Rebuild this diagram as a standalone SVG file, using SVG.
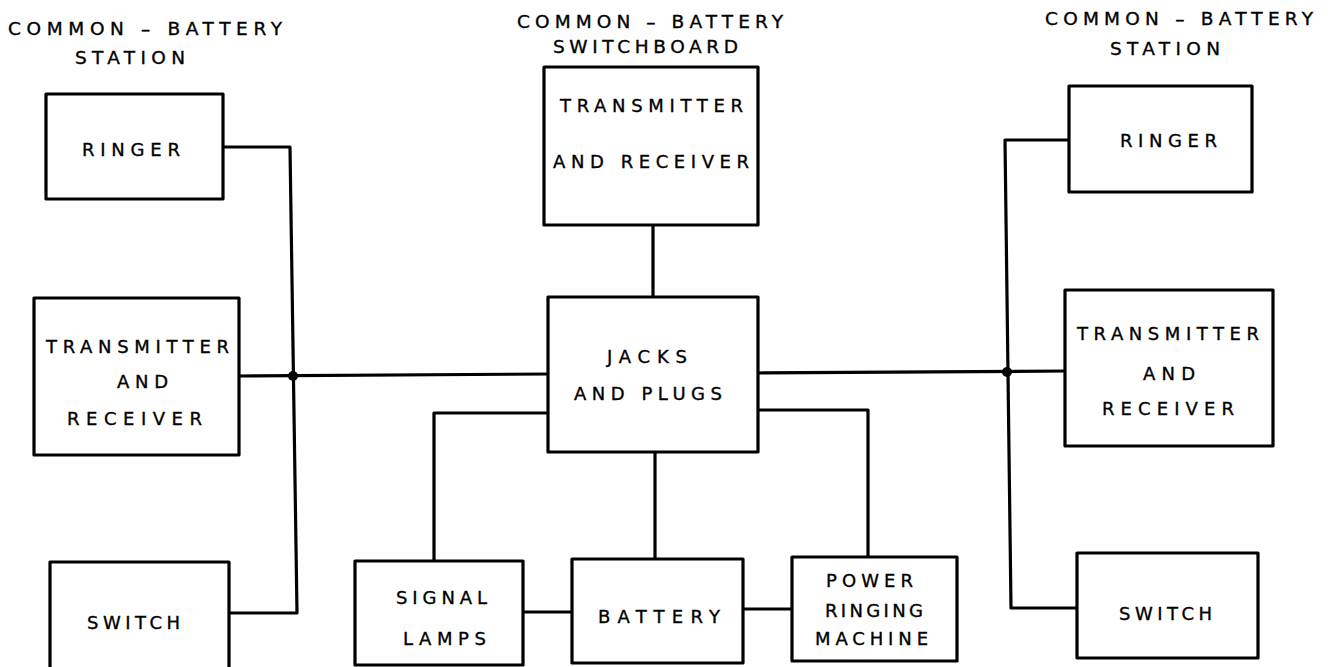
<svg xmlns="http://www.w3.org/2000/svg" width="1335" height="667" viewBox="0 0 1335 667">
<style>
.box{fill:#fff;stroke:#000;stroke-width:3.2;stroke-linejoin:round}
.wire{fill:none;stroke:#000;stroke-width:3.2;stroke-linejoin:round;stroke-linecap:square}
text{font-family:"DejaVu Sans","Liberation Sans",sans-serif;font-size:18px;fill:#000;stroke:#000;stroke-width:0.35}
.title{font-size:18.5px}
</style>
<rect width="1335" height="667" fill="#fff"/>
<g id="titles">
<text class="title" x="8" y="35" textLength="274" lengthAdjust="spacing">COMMON – BATTERY</text>
<text class="title" x="75" y="64" textLength="110" lengthAdjust="spacing">STATION</text>
<text class="title" x="517" y="28" textLength="266" lengthAdjust="spacing">COMMON – BATTERY</text>
<text class="title" x="553" y="53" textLength="185" lengthAdjust="spacing">SWITCHBOARD</text>
<text class="title" x="1045" y="25" textLength="268" lengthAdjust="spacing">COMMON – BATTERY</text>
<text class="title" x="1110" y="55" textLength="110" lengthAdjust="spacing">STATION</text>
</g>
<g id="connectors">
<polyline class="wire" points="223,147 290,147 297,613 229,613"/>
<line class="wire" x1="239" y1="376" x2="548" y2="374"/>
<line class="wire" x1="653" y1="225" x2="653" y2="297"/>
<polyline class="wire" points="548,413 434,413 434,561"/>
<line class="wire" x1="655" y1="452" x2="655" y2="559"/>
<polyline class="wire" points="758,410 868,410 868,557"/>
<line class="wire" x1="523" y1="612" x2="572" y2="612"/>
<line class="wire" x1="743" y1="609" x2="792" y2="609"/>
<line class="wire" x1="758" y1="373" x2="1065" y2="371"/>
<polyline class="wire" points="1069,140 1005,140 1011,608 1077,608"/>
<circle cx="293" cy="376" r="5" fill="#000"/>
<circle cx="1007" cy="372" r="5" fill="#000"/>
</g>
<g id="left-ringer">
<rect class="box" x="46" y="94" width="177" height="105"/>
<text x="82" y="156" textLength="98" lengthAdjust="spacing">RINGER</text>
</g>
<g id="left-transmitter">
<rect class="box" x="34" y="298" width="205" height="157"/>
<text x="46" y="353" textLength="183" lengthAdjust="spacing">TRANSMITTER</text>
<text x="117" y="388" textLength="51" lengthAdjust="spacing">AND</text>
<text x="67" y="425" textLength="135" lengthAdjust="spacing">RECEIVER</text>
</g>
<g id="left-switch">
<rect class="box" x="50" y="562" width="179" height="110"/>
<text x="87" y="629" textLength="93" lengthAdjust="spacing">SWITCH</text>
</g>
<g id="center-transmitter">
<rect class="box" x="544" y="67" width="214" height="158"/>
<text x="560" y="112" textLength="183" lengthAdjust="spacing">TRANSMITTER</text>
<text x="553" y="168" textLength="196" lengthAdjust="spacing">AND RECEIVER</text>
</g>
<g id="jacks-plugs">
<rect class="box" x="548" y="297" width="210" height="155"/>
<text x="607" y="363" textLength="80" lengthAdjust="spacing">JACKS</text>
<text x="574" y="400" textLength="148" lengthAdjust="spacing">AND PLUGS</text>
</g>
<g id="signal-lamps">
<rect class="box" x="355" y="561" width="168" height="104"/>
<text x="396" y="604" textLength="91" lengthAdjust="spacing">SIGNAL</text>
<text x="403" y="645" textLength="83" lengthAdjust="spacing">LAMPS</text>
</g>
<g id="battery">
<rect class="box" x="572" y="559" width="171" height="104"/>
<text x="598" y="623" textLength="122" lengthAdjust="spacing">BATTERY</text>
</g>
<g id="power-ringing-machine">
<rect class="box" x="792" y="557" width="165" height="104"/>
<text x="826" y="587" textLength="87" lengthAdjust="spacing">POWER</text>
<text x="825" y="617" textLength="98" lengthAdjust="spacing">RINGING</text>
<text x="815" y="645" textLength="113" lengthAdjust="spacing">MACHINE</text>
</g>
<g id="right-ringer">
<rect class="box" x="1069" y="86" width="183" height="106"/>
<text x="1120" y="147" textLength="97" lengthAdjust="spacing">RINGER</text>
</g>
<g id="right-transmitter">
<rect class="box" x="1065" y="290" width="208" height="156"/>
<text x="1077" y="340" textLength="182" lengthAdjust="spacing">TRANSMITTER</text>
<text x="1143" y="380" textLength="52" lengthAdjust="spacing">AND</text>
<text x="1102" y="415" textLength="132" lengthAdjust="spacing">RECEIVER</text>
</g>
<g id="right-switch">
<rect class="box" x="1077" y="553" width="181" height="105"/>
<text x="1119" y="620" textLength="93" lengthAdjust="spacing">SWITCH</text>
</g>
</svg>
